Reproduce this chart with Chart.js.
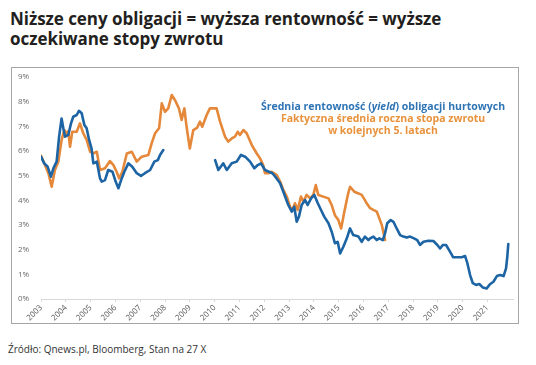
<!DOCTYPE html>
<html lang="pl">
<head>
<meta charset="utf-8">
<script src="https://cdn.jsdelivr.net/npm/chart.js@4"></script>
<style>
  body { margin: 0; width: 536px; height: 365px; background: #fff; position: relative; overflow: hidden; font-family: "Open Sans", sans-serif; }
  #title { position: absolute; left: 10px; top: 9px; font-size: 17px; font-weight: 700; line-height: 20px; color: #231f20; letter-spacing: -0.05px; }
  #box { position: absolute; left: 11px; top: 67px; width: 508px; height: 257px; border: 1px solid #a6a6a6; box-sizing: border-box; }
  #chart { position: absolute; left: 0; top: 0; }
  #legend { position: absolute; left: 233px; top: 100px; width: 300px; text-align: center; font-size: 10.5px; font-weight: 700; line-height: 12px; }
  #legend .b { color: #2e74b5; }
  #legend .o { color: #e8923c; }
  #source { position: absolute; left: 8px; top: 342px; font-size: 10px; color: #333; }
</style>
</head>
<body>
<div id="title">Niższe ceny obligacji = wyższa rentowność = wyższe<br>oczekiwane stopy zwrotu</div>
<div id="box"><canvas id="chart" width="506" height="255"></canvas></div>
<div id="legend">
  <div class="b">Średnia rentowność (<i>yield</i>) obligacji hurtowych</div>
  <div class="o">Faktyczna średnia roczna stopa zwrotu</div>
  <div class="o">w kolejnych 5. latach</div>
</div>
<div id="source">Źródło: Qnews.pl, Bloomberg, Stan na 27 X</div>

<script>
// średnia rentowność (yield) - rok (ułamek), wartość w %
const blueYears = [
  2003.0, 2003.13, 2003.27, 2003.4, 2003.5, 2003.63, 2003.73, 2003.83, 2003.9, 2003.97,
  2004.1, 2004.21, 2004.3, 2004.44, 2004.53, 2004.64, 2004.75, 2004.84, 2004.94, 2005.04,
  2005.11, 2005.25, 2005.38, 2005.45, 2005.58, 2005.71, 2005.88, 2006.01, 2006.12, 2006.23,
  2006.36, 2006.52, 2006.68, 2006.86, 2007.03, 2007.19, 2007.4, 2007.57, 2007.71, 2007.8,
  2007.93, 2009.0,
  2010.02, 2010.15, 2010.35, 2010.49, 2010.69, 2010.89, 2011.06, 2011.23, 2011.43, 2011.6,
  2011.74, 2011.87, 2012.03, 2012.19, 2012.33, 2012.5, 2012.64, 2012.77, 2012.97, 2013.11,
  2013.21, 2013.31, 2013.4, 2013.51, 2013.65, 2013.75, 2013.89, 2014.02, 2014.16, 2014.29,
  2014.42, 2014.59, 2014.72, 2014.85, 2014.96, 2015.06, 2015.19, 2015.33, 2015.46, 2015.59,
  2015.8, 2015.93, 2016.06, 2016.2, 2016.27, 2016.4, 2016.54, 2016.64, 2016.78, 2016.87,
  2016.96, 2017.1, 2017.21, 2017.34, 2017.48, 2017.61, 2017.75, 2017.88, 2018.04, 2018.17,
  2018.28, 2018.42, 2018.62, 2018.82, 2018.98, 2019.09, 2019.2, 2019.33, 2019.49, 2019.62,
  2019.78, 2019.96, 2020.1, 2020.19, 2020.3, 2020.41, 2020.54, 2020.67, 2020.81, 2020.97,
  2021.1, 2021.24, 2021.38, 2021.51, 2021.65, 2021.75, 2021.8, 2021.84
];
const blueValues = [
  5.77, 5.5, 5.36, 4.96, 5.3, 5.57, 6.58, 7.32, 6.92, 6.58,
  6.65, 7.12, 7.39, 7.46, 7.63, 7.53, 7.05, 6.92, 6.45, 6.1,
  5.5, 5.57, 4.89, 4.76, 4.82, 5.23, 5.16, 4.76, 4.49, 4.82,
  5.16, 5.5, 5.36, 5.1, 4.99, 5.1, 5.23, 5.57, 5.63, 5.84,
  6.04, null,
  5.63, 5.23, 5.5, 5.23, 5.5, 5.57, 5.84, 5.77, 5.57, 5.3,
  5.43, 5.5, 5.23, 5.16, 5.1, 4.89, 4.69, 4.35, 3.81, 3.54,
  3.74, 3.13, 3.34, 3.81, 4.01, 3.81, 4.08, 4.22, 3.88, 3.61,
  3.34, 3.07, 2.73, 2.26, 2.32, 1.85, 2.12, 2.46, 2.86, 2.59,
  2.53, 2.32, 2.53, 2.39, 2.46, 2.53, 2.39, 2.46, 2.39, 2.66,
  3.07, 3.2, 3.13, 2.86, 2.59, 2.53, 2.49, 2.53, 2.46, 2.39,
  2.19, 2.32, 2.36, 2.35, 2.19, 2.05, 2.19, 2.19, 1.92, 1.69,
  1.69, 1.69, 1.74, 1.45, 0.97, 0.64, 0.57, 0.61, 0.47, 0.43,
  0.6, 0.7, 0.93, 0.97, 0.93, 1.24, 1.71, 2.23
];

// faktyczna średnia roczna stopa zwrotu w kolejnych 5 latach
const orangeYears = [
  2003.0, 2003.16, 2003.3, 2003.43, 2003.56, 2003.7, 2003.83, 2003.94, 2004.04, 2004.1,
  2004.17, 2004.26, 2004.44, 2004.57, 2004.7, 2004.84, 2004.98, 2005.1, 2005.25, 2005.38,
  2005.58, 2005.78, 2005.92, 2006.05, 2006.15, 2006.28, 2006.46, 2006.66, 2006.86, 2007.06,
  2007.33, 2007.46, 2007.6, 2007.76, 2007.87, 2008.0, 2008.13, 2008.27, 2008.4, 2008.56,
  2008.67, 2008.78, 2008.87, 2009.0, 2009.14, 2009.3, 2009.41, 2009.5, 2009.68, 2009.81,
  2009.95, 2010.08, 2010.22, 2010.42, 2010.55, 2010.69, 2010.82, 2010.93, 2011.02, 2011.16,
  2011.29, 2011.5, 2011.7, 2011.83, 2011.96, 2012.03, 2012.17, 2012.3, 2012.5, 2012.64,
  2012.77, 2012.91, 2013.04, 2013.13, 2013.24, 2013.35, 2013.48, 2013.58, 2013.71, 2013.85,
  2013.98, 2014.08, 2014.18, 2014.38, 2014.59, 2014.72, 2014.85, 2014.99, 2015.1, 2015.23,
  2015.37, 2015.46, 2015.63, 2015.8, 2015.93, 2016.06, 2016.13, 2016.27, 2016.4, 2016.54,
  2016.64, 2016.74, 2016.83, 2016.87
];
const orangeValues = [
  5.81, 5.43, 5.09, 4.55, 5.23, 5.57, 6.44, 6.85, 6.7, 6.8,
  6.17, 6.78, 6.78, 7.12, 6.73, 6.45, 5.97, 5.9, 5.97, 5.23,
  5.3, 5.59, 5.43, 5.16, 4.89, 5.16, 5.9, 5.97, 5.57, 5.77,
  5.84, 6.31, 6.72, 6.92, 7.93, 7.59, 7.73, 8.27, 8.07, 7.73,
  7.26, 7.73, 6.98, 6.1, 6.85, 6.95, 7.19, 6.98, 7.46, 7.73,
  7.73, 7.73, 7.19, 6.58, 6.38, 6.51, 6.58, 6.78, 6.65, 6.85,
  6.72, 6.24, 5.9, 5.7, 5.43, 5.1, 5.1, 5.16, 5.03, 4.76,
  4.42, 4.15, 3.74, 3.61, 3.88, 3.61, 4.15, 3.94, 4.22, 4.08,
  4.22, 4.62, 4.22, 4.15, 4.08, 3.81, 3.4, 3.2, 2.86, 3.54,
  4.22, 4.55, 4.35, 4.28, 4.22, 4.01, 3.88, 3.68, 3.61, 3.54,
  3.27, 3.0, 2.59, 2.39
];

const yearTicks = [2003, 2004, 2005, 2006, 2007, 2008, 2009, 2010, 2011, 2012,
  2013, 2014, 2015, 2016, 2017, 2018, 2019, 2020, 2021];
const percentTicks = [0, 1, 2, 3, 4, 5, 6, 7, 8, 9];

function toPoints(xs, ys){
  return xs.map((x, i) => ({ x: x, y: ys[i] }));
}

const tickFont = { family: "Open Sans", size: 8 };

new Chart(document.getElementById("chart"), {
  type: "line",
  data: {
    datasets: [
      {
        label: "Średnia rentowność (yield) obligacji hurtowych",
        data: toPoints(blueYears, blueValues),
        borderColor: "#1c64a3",
        borderWidth: 2.6,
        pointRadius: 0,
        spanGaps: false,
        order: 1
      },
      {
        label: "Faktyczna średnia roczna stopa zwrotu w kolejnych 5. latach",
        data: toPoints(orangeYears, orangeValues),
        borderColor: "#e5883a",
        borderWidth: 2.6,
        pointRadius: 0,
        order: 2
      }
    ]
  },
  options: {
    responsive: false,
    animation: false,
    devicePixelRatio: 1,
    layout: { padding: { top: 9, right: 5, left: 6, bottom: 0 } },
    plugins: { legend: { display: false }, tooltip: { enabled: false } },
    elements: { line: { tension: 0, borderJoinStyle: "round", borderCapStyle: "round" } },
    scales: {
      x: {
        type: "linear",
        min: 2003,
        max: 2022.03,
        afterFit: s => { s.height = 24; },
        afterBuildTicks: s => { s.ticks = yearTicks.map(v => ({ value: v })); },
        grid: { display: true, drawOnChartArea: false, drawTicks: true, tickLength: 3, color: "#d9d9d9" },
        border: { display: true, color: "#d9d9d9", width: 1 },
        ticks: {
          minRotation: 45,
          maxRotation: 45,
          padding: 1,
          color: "#595959",
          font: tickFont,
          callback: v => String(v)
        }
      },
      y: {
        min: 0,
        max: 9,
        afterFit: s => { s.width = 23; },
        afterBuildTicks: s => { s.ticks = percentTicks.map(v => ({ value: v })); },
        grid: { display: false },
        border: { display: false },
        ticks: {
          crossAlign: "far",
          color: "#6a6a6a",
          font: tickFont,
          callback: v => v + "%"
        }
      }
    }
  }
});
</script>
</body>
</html>
